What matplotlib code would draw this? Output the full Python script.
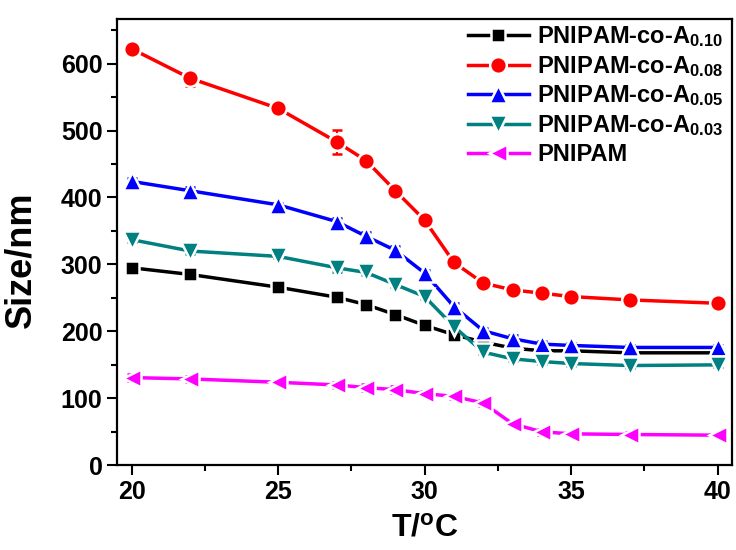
import numpy as np
import matplotlib
matplotlib.use('Agg')
import matplotlib.pyplot as plt
from matplotlib.ticker import MultipleLocator

plt.rcParams['font.family'] = ['Liberation Sans', 'DejaVu Sans']
plt.rcParams['font.weight'] = 'bold'
plt.rcParams['mathtext.fontset'] = 'custom'
plt.rcParams['mathtext.rm'] = 'Liberation Sans:bold'
plt.rcParams['mathtext.default'] = 'regular'

# temperature points
T = [20, 22, 25, 27, 28, 29, 30, 31, 32, 33, 34, 35, 37, 40]

# sizes (nm) and error bars for each sample
a010 = [295, 285, 266, 251, 240, 225, 209, 195, 184, 175, 171, 171, 168, 168]
a010_err = [3, 3, 3, 3, 3, 3, 3, 3, 5, 5, 5, 4, 4, 4]
a008 = [622, 578, 533, 483, 455, 410, 366, 303, 272, 262, 257, 252, 247, 242]
a008_err = [4, 11, 9, 18, 4, 5, 6, 4, 4, 3, 3, 3, 3, 3]
a005 = [424, 410, 389, 364, 342, 321, 287, 237, 201, 189, 181, 179, 176, 176]
a005_err = [5, 6, 3, 6, 7, 7, 5, 5, 4, 5, 4, 3, 3, 3]
a003 = [337, 320, 312, 295, 288, 270, 252, 207, 169, 159, 155, 152, 149, 150]
a003_err = [4, 5, 3, 6, 4, 4, 4, 4, 3, 3, 3, 3, 3, 3]
pnipam = [131, 129, 124, 120, 116, 113, 107, 103, 93, 62, 50, 47, 46, 45]
pnipam_err = [5, 4, 3, 4, 5, 5, 4, 4, 4, 4, 4, 3, 3, 3]

labels = ['PNIPAM-co-A$_{0.10}$', 'PNIPAM-co-A$_{0.08}$', 'PNIPAM-co-A$_{0.05}$',
          'PNIPAM-co-A$_{0.03}$', 'PNIPAM']

fig = plt.figure(figsize=(7.36, 5.5), dpi=100)
ax = fig.add_axes([0.159, 0.154, 0.836, 0.812])

series = [
    (a010, a010_err, 'black', 's', 10),
    (a008, a008_err, '#ff0000', 'o', 12),
    (a005, a005_err, '#0000ff', '^', 13),
    (a003, a003_err, '#008080', 'v', 13),
    (pnipam, pnipam_err, '#ff00ff', '<', 13),
]

handles = []
for (y, e, c, m, ms), lab in zip(series, labels):
    cont = ax.errorbar(T, y, yerr=e, color=c, marker=m, markersize=ms, lw=2.5,
                       mec='white', mew=1.8, mfc=c, capsize=3.5, elinewidth=1.5,
                       capthick=1.5, label=lab)
    handles.append(cont[0])

ax.set_xlim(19.5, 40.5)
ax.set_ylim(0, 667)
ax.xaxis.set_major_locator(MultipleLocator(5))
ax.xaxis.set_minor_locator(MultipleLocator(2.5))
ax.yaxis.set_major_locator(MultipleLocator(100))
ax.yaxis.set_minor_locator(MultipleLocator(50))
ax.tick_params(which='major', direction='out', length=7, width=1.5, labelsize=18)
ax.tick_params(which='minor', direction='out', length=4, width=1.5)
for s in ax.spines.values():
    s.set_linewidth(1.6)
for t in ax.get_xticklabels() + ax.get_yticklabels():
    t.set_fontweight('bold')

ax.set_xlabel('T/$^{o}$C', fontsize=23, fontweight='bold', labelpad=7)
ax.set_ylabel('Size/nm', fontsize=26, fontweight='bold')
ax.yaxis.set_label_coords(-0.128, 0.46)

leg = ax.legend(handles, labels, loc='upper right', bbox_to_anchor=(1.02, 1.035),
                frameon=False, fontsize=17, handlelength=2.6, handletextpad=0.35,
                labelspacing=0.2)
for t in leg.get_texts():
    t.set_fontweight('bold')

fig.savefig('out.png', dpi=100)
